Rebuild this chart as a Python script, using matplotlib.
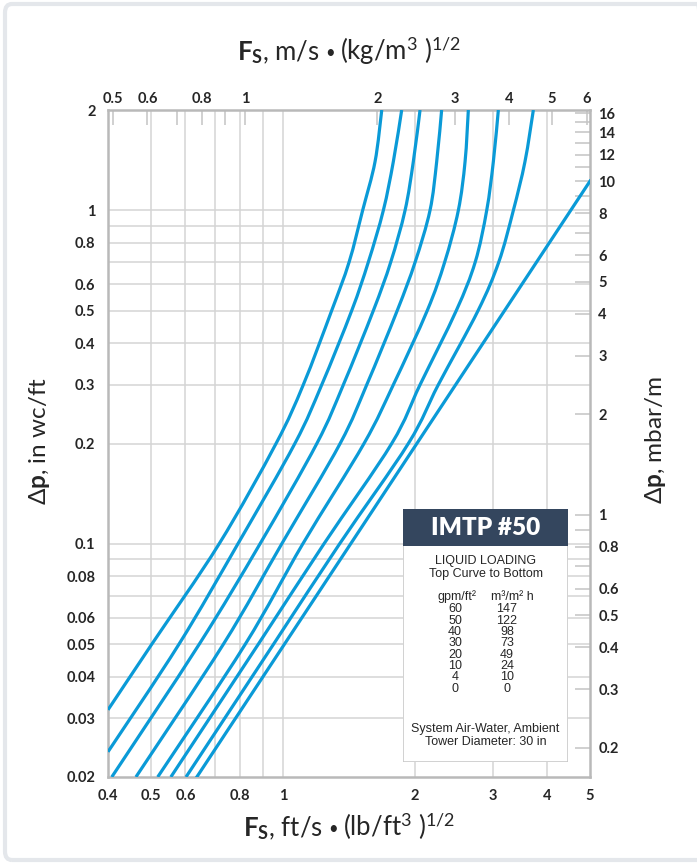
import matplotlib.pyplot as plt
from matplotlib.patches import Rectangle, FancyBboxPatch, PathPatch
from matplotlib.path import Path
import matplotlib.transforms as mtransforms
import numpy as np

plt.rcParams['font.family'] = ['Lato', 'DejaVu Sans']
plt.rcParams['mathtext.fontset'] = 'custom'
plt.rcParams['mathtext.rm'] = 'Lato'
plt.rcParams['mathtext.bf'] = 'Lato:bold'
plt.rcParams['mathtext.it'] = 'Lato:italic'

# ---- data ----
loading_gpm = [60, 50, 40, 30, 20, 10, 4, 0]
loading_m3 = [147, 122, 98, 73, 49, 24, 10, 0]

# first visible point of each wet curve (left edge or bottom edge)
start_fs = [0.400, 0.400, 0.408, 0.463, 0.519, 0.556, 0.602]
start_dp = [0.0318, 0.0238, 0.020, 0.020, 0.020, 0.020, 0.020]

# pressure drop (in wc/ft) at which F was read for the wet curves
dp_levels = [0.05, 0.1, 0.2, 0.3, 0.5, 0.7, 1.0, 1.4, 2.0]
fs_60 = [0.503, 0.716, 0.965, 1.113, 1.291, 1.415, 1.519, 1.621, 1.679]
fs_50 = [0.580, 0.790, 1.065, 1.226, 1.434, 1.565, 1.693, 1.784, 1.864]
fs_40 = [0.645, 0.887, 1.195, 1.373, 1.606, 1.760, 1.897, 1.981, 2.052]
fs_30 = [0.732, 0.994, 1.350, 1.552, 1.820, 2.000, 2.162, 2.239, 2.298]
fs_20 = [0.821, 1.110, 1.530, 1.784, 2.130, 2.335, 2.508, 2.598, 2.643]
fs_10 = [0.879, 1.240, 1.769, 2.052, 2.480, 2.740, 2.910, 3.013, 3.093]
fs_4 = [0.952, 1.346, 1.930, 2.258, 2.780, 3.100, 3.346, 3.556, 3.716]

# dry curve (0 gpm/ft2) is a straight line
fs_0 = [0.637, 5.0]
dp_0 = [0.020, 1.224]

# axis ticks
x_ticks = [0.4, 0.5, 0.6, 0.8, 1, 2, 3, 4, 5]
x_grid = [0.5, 0.6, 0.7, 0.8, 0.9, 1, 2, 3, 4]
y_ticks = [0.02, 0.03, 0.04, 0.05, 0.06, 0.08, 0.1, 0.2, 0.3, 0.4, 0.5, 0.6, 0.8, 1, 2]
y_grid = [0.03, 0.04, 0.05, 0.06, 0.07, 0.08, 0.09, 0.1, 0.2, 0.3, 0.4, 0.5, 0.6, 0.7, 0.8, 0.9, 1]
top_ticks = [0.5, 0.6, 0.8, 1, 2, 3, 4, 5, 6]
top_minor = [0.7, 0.9]
right_ticks = [0.2, 0.3, 0.4, 0.5, 0.6, 0.8, 1, 2, 3, 4, 5, 6, 8, 10, 12, 14, 16]
right_minor = [0.7, 0.9, 7, 9, 11, 13, 15]

K_FS = 1.2199   # ft/s (lb/ft3)^0.5 -> m/s (kg/m3)^0.5
K_DP = 8.172    # in wc/ft -> mbar/m

BLUE = '#0a9ad7'
GRID = '#d4d4d4'
SPINE = '#b9b9b9'
TXT = '#262626'


def smooth_path(xs, ys):
    # Catmull-Rom through the points in log space, as cubic Bezier segments
    pts = np.column_stack([np.log10(xs), np.log10(ys)])
    verts = [pts[0]]
    codes = [Path.MOVETO]
    for i in range(len(pts) - 1):
        p0 = pts[i - 1] if i > 0 else pts[i]
        p1 = pts[i]
        p2 = pts[i + 1]
        p3 = pts[i + 2] if i + 2 < len(pts) else pts[i + 1]
        verts += [p1 + (p2 - p0) / 6.0, p2 - (p3 - p1) / 6.0, p2]
        codes += [Path.CURVE4] * 3
    return Path(10 ** np.array(verts), codes)


fig = plt.figure(figsize=(6.97, 8.65), dpi=100)
fig.patch.set_facecolor('white')
fig.add_artist(FancyBboxPatch((5 / 697, 5 / 865), 700 / 697, 856 / 865,
                              boxstyle='round,pad=0,rounding_size=0.01',
                              transform=fig.transFigure, facecolor='none',
                              edgecolor='#e4e7eb', linewidth=3))

ax = fig.add_axes([108 / 697, 1 - 777 / 865, 482 / 697, 667 / 865])
ax.set_xscale('log')
ax.set_yscale('log')
ax.set_xlim(0.4, 5)
ax.set_ylim(0.02, 2)

for gx in x_grid:
    ax.axvline(gx, color=GRID, lw=1.1, zorder=1)
for gy in y_grid:
    ax.axhline(gy, color=GRID, lw=1.1, zorder=1)

wet = [fs_60, fs_50, fs_40, fs_30, fs_20, fs_10, fs_4]
for i, fs in enumerate(wet):
    xs = [start_fs[i]] + fs
    ys = [start_dp[i]] + dp_levels
    ax.add_patch(PathPatch(smooth_path(xs, ys), facecolor='none', edgecolor=BLUE,
                           lw=2.3, transform=ax.transData, zorder=3))
ax.plot(fs_0, dp_0, color=BLUE, lw=2.3, zorder=3)

for s in ax.spines.values():
    s.set_color(SPINE)
    s.set_linewidth(1.8)

ax.set_xticks(x_ticks)
ax.set_xticklabels([f'{v:g}' for v in x_ticks])
ax.set_yticks(y_ticks)
ax.set_yticklabels([f'{v:g}' for v in y_ticks])
ax.minorticks_off()
ax.tick_params(length=0, labelsize=10.5, labelcolor=TXT, pad=9)
for lab in ax.get_xticklabels() + ax.get_yticklabels():
    lab.set_fontweight('bold')

top = ax.secondary_xaxis('top', functions=(lambda x: x * K_FS, lambda x: x / K_FS))
top.set_xticks(top_ticks)
top.set_xticklabels([f'{v:g}' for v in top_ticks])
top.set_xticks(top_minor, minor=True)
top.xaxis.set_minor_formatter(plt.NullFormatter())
top.tick_params(which='both', direction='in', length=11, width=1.1, color='#c4c4c4',
                labelsize=10.5, labelcolor=TXT, pad=3)
top.spines['top'].set_visible(False)
for lab in top.get_xticklabels():
    lab.set_fontweight('bold')

right = ax.secondary_yaxis('right', functions=(lambda y: y * K_DP, lambda y: y / K_DP))
right.set_yticks(right_ticks)
right.set_yticklabels([f'{v:g}' for v in right_ticks])
right.set_yticks(right_minor, minor=True)
right.yaxis.set_minor_formatter(plt.NullFormatter())
right.tick_params(which='both', direction='in', length=11, width=1.1, color='#c4c4c4',
                  labelsize=10.5, labelcolor=TXT, pad=6)
right.spines['right'].set_visible(False)
for lab in right.get_yticklabels():
    lab.set_fontweight('bold')


def title_row(y_px, left, right_txt):
    # label = left part, a smaller bullet, right part; centred over the axes
    renderer = fig.canvas.get_renderer()
    size = 18.5
    parts = [(left, size, 0), ('•', 12, 2.5), (right_txt, size, 0)]
    texts = []
    widths = []
    for s, fsz, dy in parts:
        t = fig.text(0, 0, s, fontsize=fsz, color=TXT, va='baseline', ha='left')
        widths.append(t.get_window_extent(renderer).width)
        texts.append((t, dy))
    gap = 5
    total = sum(widths) + gap * 2
    x0 = 349 - total / 2
    base = 865 - y_px
    for (t, dy), w in zip(texts, widths):
        t.set_transform(mtransforms.IdentityTransform())
        t.set_position((x0, base + dy))
        x0 += w + gap


title_row(60, r'$\mathbf{F}_\mathbf{S}$, m/s', r'(kg/m$^{3}$ )$^{1/2}$')
title_row(836, r'$\mathbf{F}_\mathbf{S}$, ft/s', r'(lb/ft$^{3}$ )$^{1/2}$')

fig.text(40 / 697, 1 - 441 / 865, r'$\Delta\mathbf{p}$, in wc/ft', rotation=90,
         ha='center', va='center', fontsize=17.5, color=TXT)
fig.text(655 / 697, 1 - 440 / 865, r'$\Delta\mathbf{p}$, mbar/m', rotation=90,
         ha='center', va='center', fontsize=17.5, color=TXT)

# legend box
lg = fig.add_axes([403 / 697, 1 - 762 / 865, 165 / 697, 253 / 865])
lg.set_xlim(403, 568)
lg.set_ylim(762, 509)
lg.axis('off')
lg.add_patch(Rectangle((403, 509), 165, 253, facecolor='white', edgecolor='#c9c9c9', lw=1.2))
lg.add_patch(Rectangle((403, 509), 165, 37, facecolor='#34465e', edgecolor='none'))
lg.text(485.5, 528, 'IMTP #50', ha='center', va='center', color='white',
        fontsize=17.5, fontweight='heavy')
narrow = ['Liberation Sans Narrow', 'Liberation Sans']
fs_leg = 9
lg.text(485.5, 561, 'LIQUID LOADING', ha='center', va='center', fontsize=fs_leg,
        family=narrow, color=TXT)
lg.text(485.5, 574, 'Top Curve to Bottom', ha='center', va='center', fontsize=fs_leg,
        family=narrow, color=TXT)
lg.text(457, 600, 'gpm/ft²', ha='center', va='baseline', fontsize=fs_leg,
        family=narrow, color=TXT)
lg.text(512, 600, 'm³/m² h', ha='center', va='baseline', fontsize=fs_leg,
        family=narrow, color=TXT)
for i, (g, m) in enumerate(zip(loading_gpm, loading_m3)):
    yy = 612.5 + i * 11.3
    lg.text(455, yy, str(g), ha='center', va='baseline', fontsize=fs_leg, family=narrow, color=TXT)
    lg.text(507, yy, str(m), ha='center', va='baseline', fontsize=fs_leg, family=narrow, color=TXT)
lg.text(485.5, 729, 'System Air-Water, Ambient', ha='center', va='center', fontsize=fs_leg,
        family=narrow, color=TXT)
lg.text(485.5, 742, 'Tower Diameter: 30 in', ha='center', va='center', fontsize=fs_leg,
        family=narrow, color=TXT)

fig.savefig('out.png', dpi=100, facecolor='white')
